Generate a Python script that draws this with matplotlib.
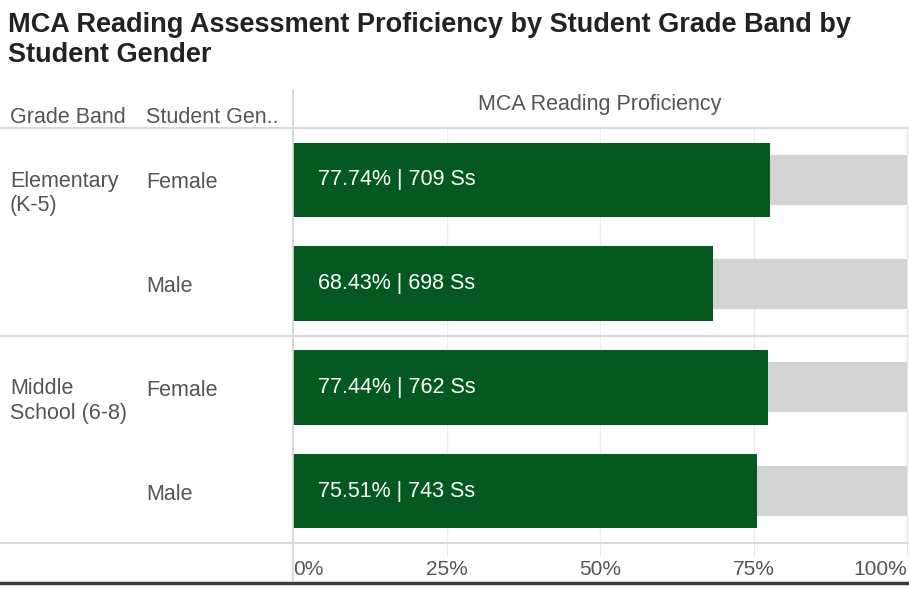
import matplotlib.pyplot as plt

plt.rcParams['font.family'] = ['Liberation Sans', 'DejaVu Sans']

grade_bands = ["Elementary\n(K-5)", "Middle\nSchool (6-8)"]
genders = ["Female", "Male", "Female", "Male"]
proficiency = [77.74, 68.43, 77.44, 75.51]
students = [709, 698, 762, 743]
ticks = [0, 25, 50, 75, 100]
tick_labels = ["0%", "25%", "50%", "75%", "100%"]

green = '#03591f'
grey_bar = '#d3d3d3'
line_col = '#d6d6d6'
txt = '#555555'

W, H = 909, 589
fig = plt.figure(figsize=(W / 100, H / 100), dpi=100)
x0, x1, ytop, ybot = 293, 907, 128, 543
ax = fig.add_axes([x0 / W, 1 - ybot / H, (x1 - x0) / W, (ybot - ytop) / H])

rows = list(range(len(proficiency)))
ax.barh(rows, [100] * len(rows), height=0.48, color=grey_bar, zorder=1)
ax.barh(rows, proficiency, height=0.72, color=green, zorder=2)
for r, p, s in zip(rows, proficiency, students):
    ax.text(4.1, r, f"{p:.2f}% | {s} Ss", color='white', va='center',
            fontsize=15.5, zorder=3)

ax.set_xlim(0, 100)
ax.set_ylim(3.5, -0.5)
for sp in ax.spines.values():
    sp.set_visible(False)
ax.set_yticks([])
ax.set_xticks(ticks)
ax.set_xticklabels(tick_labels, fontsize=15, color=txt)
labels = ax.get_xticklabels()
labels[0].set_ha('left')
labels[-1].set_ha('right')
ax.tick_params(axis='x', length=9, color='#e6e6e6', pad=3)
for t in ticks[1:-1]:
    ax.axvline(t, color='#ececec', lw=1, zorder=0)

# frame lines
axw = x1 - x0
ext_left = -x0 / axw
ext_right = (W - x0) / axw
for yv in [-0.5, 1.5, 3.5]:
    ax.axhline(yv, xmin=ext_left, xmax=ext_right, color=line_col, lw=1.3,
               clip_on=False, zorder=4)
axh = ybot - ytop
ax.axvline(0, ymin=(ybot - 580) / axh, ymax=(ybot - 90) / axh, color=line_col,
           lw=1.3, clip_on=False, zorder=4)
ax.axvline(100, ymin=0, ymax=1, color='#e6e6e6', lw=1, clip_on=False, zorder=4)

# headers
ax.text(50, (ybot - 104) / axh, "MCA Reading Proficiency", ha='center',
        va='center', fontsize=15.5, color=txt, transform=ax.get_xaxis_transform())
ax.text((10 - x0) / axw, (ybot - 117) / axh, "Grade Band", ha='left',
        va='center', fontsize=15.5, color=txt, transform=ax.transAxes)
ax.text((146 - x0) / axw, (ybot - 117) / axh, "Student Gen..", ha='left',
        va='center', fontsize=15.5, color=txt, transform=ax.transAxes)

# row labels
gx = (10 - x0) / axw
sx = (146 - x0) / axw
for r, g in zip(rows, genders):
    ax.text(sx, r + 0.03, g, ha='left', va='center', fontsize=15.5, color=txt,
            transform=ax.get_yaxis_transform())
for i, band in enumerate(grade_bands):
    ax.text(gx, 2 * i - 0.09, band, ha='left', va='top', fontsize=15.5,
            color=txt, linespacing=1.22, transform=ax.get_yaxis_transform())

fig.text(8 / W, 1 - 12 / H,
         "MCA Reading Assessment Proficiency by Student Grade Band by\nStudent Gender",
         ha='left', va='top', fontsize=19.5, fontweight='bold', color='#222222',
         linespacing=1.2)

fig.add_artist(plt.Line2D([0, 1], [1 - 583 / H] * 2, color='#3c3c3c', lw=2.5))

fig.savefig('out.png', dpi=100)
